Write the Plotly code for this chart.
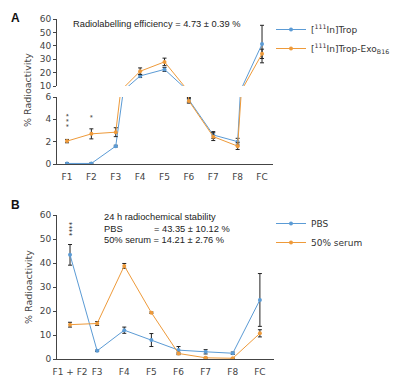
import plotly.graph_objects as go

# ---- data ----
cats_a = ["F1", "F2", "F3", "F4", "F5", "F6", "F7", "F8", "FC"]
trop = [0.05, 0.05, 1.6, 17.5, 22.4, 5.75, 2.6, 2.0, 41.3]
trop_err = [0.05, 0.05, 0.08, 1.2, 1.5, 0.2, 0.3, 0.3, 14.0]
exo = [2.05, 2.7, 2.85, 21.0, 28.0, 5.65, 2.45, 1.6, 34.0]
exo_err = [0.15, 0.45, 0.4, 2.5, 2.8, 0.2, 0.35, 0.3, 3.5]

cats_b = ["F1 + F2", "F3", "F4", "F5", "F6", "F7", "F8", "FC"]
pbs = [43.4, 3.4, 12.0, 7.9, 3.7, 3.0, 2.4, 24.6]
pbs_err = [4.3, 0.3, 1.3, 2.7, 1.5, 0.9, 0.5, 11.0]
serum = [14.3, 14.8, 38.8, 19.3, 2.3, 0.5, 0.3, 10.7]
serum_err = [1.0, 0.8, 1.0, 0.3, 0.5, 0.2, 0.1, 1.5]

yticks_a_low = [0, 2, 4, 6]
yticks_a_high = [10, 20, 30, 40, 50, 60]
yticks_b = [0, 10, 20, 30, 40, 50, 60]

BLUE = "#5B9BD5"
ORANGE = "#EE9A3A"
OFF = 8                      # default page body margin
W, H = 413 - OFF, 379 - OFF
TICKFONT = dict(family="DejaVu Sans", size=9, color="#444")
TXTFONT = dict(family="Liberation Sans, Arial", size=9.3, color="#222")


def px(x):
    return (x - OFF) / W


def py(y):
    return 1 - (y - OFF) / H


fig = go.Figure()


def add(x, y, err, color, name, xa, ya, legend, show):
    fig.add_trace(go.Scatter(
        x=x, y=y, mode="lines+markers", name=name,
        line=dict(color=color, width=1),
        marker=dict(color=color, size=4),
        error_y=dict(type="data", array=err, color="#222", thickness=1, width=2),
        xaxis=xa, yaxis=ya, legend=legend, showlegend=show))


# Panel A (broken axis: lower y, upper y2)
add(cats_a, trop, trop_err, BLUE, "[<sup>111</sup>In]Trop", "x", "y", "legend", False)
add(cats_a, exo, exo_err, ORANGE, "[<sup>111</sup>In]Trop-Exo<sub>B16</sub>", "x", "y", "legend", False)
add(cats_a, trop, trop_err, BLUE, "[<sup>111</sup>In]Trop", "x2", "y2", "legend", True)
add(cats_a, exo, exo_err, ORANGE, "[<sup>111</sup>In]Trop-Exo<sub>B16</sub>", "x2", "y2", "legend", True)
# Panel B
add(cats_b, pbs, pbs_err, BLUE, "PBS", "x3", "y3", "legend2", True)
add(cats_b, serum, serum_err, ORANGE, "50% serum", "x3", "y3", "legend2", True)

yax_common = dict(showline=True, linecolor="#444", linewidth=1, ticks="outside",
                  ticklen=3, tickcolor="#444", tickfont=TICKFONT, showgrid=False,
                  zeroline=False, automargin=False)
xax_common = dict(type="category", showgrid=False, zeroline=False, ticks="",
                  tickfont=TICKFONT, automargin=False)

xa_dom = [px(57), px(273)]
fig.update_layout(
    width=W, height=H, margin=dict(l=0, r=0, t=0, b=0, autoexpand=False),
    paper_bgcolor="white", plot_bgcolor="white",
    xaxis=dict(domain=xa_dom, anchor="y", range=[-0.41, 8.45], showline=True,
               linecolor="#444", linewidth=1, ticklabelstandoff=4, **xax_common),
    yaxis=dict(domain=[py(164), py(97)], anchor="x", range=[0, 6],
               tickvals=yticks_a_low, **yax_common),
    xaxis2=dict(domain=xa_dom, anchor="y2", range=[-0.41, 8.45], showline=False,
                showticklabels=False, matches="x", **xax_common),
    yaxis2=dict(domain=[py(86), py(19)], anchor="x2", range=[10, 60],
                tickvals=yticks_a_high, **yax_common),
    xaxis3=dict(domain=[px(57), px(274)], anchor="y3", range=[-0.48, 7.52],
                showline=True, linecolor="#444", linewidth=1, ticklabelstandoff=4,
                **xax_common),
    yaxis3=dict(domain=[py(359), py(215)], anchor="x3", range=[0, 60],
                tickvals=yticks_b, **yax_common),
    legend=dict(x=px(271), y=py(15), xanchor="left", yanchor="top",
                font=dict(family="DejaVu Sans", size=9, color="#333"),
                bgcolor="rgba(0,0,0,0)", tracegroupgap=0),
    legend2=dict(x=px(271), y=py(209), xanchor="left", yanchor="top",
                 font=dict(family="DejaVu Sans", size=9, color="#333"),
                 bgcolor="rgba(0,0,0,0)", tracegroupgap=0),
    showlegend=True,
)

ann = []
# panel letters
ann.append(dict(x=px(9), y=py(9), text="<b>A</b>", yanchor="top", font=dict(family="Liberation Sans, Arial", size=12, color="#111")))
ann.append(dict(x=px(9), y=py(205), text="<b>B</b>", font=dict(family="Liberation Sans, Arial", size=12, color="#111")))
# y titles
for yc in (90, 287):
    ann.append(dict(x=px(28), y=py(yc), text="% Radioactivity", textangle=-90,
                    xanchor="center", yanchor="middle",
                    font=dict(family="DejaVu Sans", size=9.5, color="#444")))
# texts
ann.append(dict(x=px(71), y=py(24), text="Radiolabelling efficiency = 4.73 ± 0.39 %", font=TXTFONT))
ann.append(dict(x=px(102), y=py(217), text="24 h radiochemical stability", font=TXTFONT))
ann.append(dict(x=px(102), y=py(229), text="PBS", font=TXTFONT))
ann.append(dict(x=px(152), y=py(229), text="= 43.35 ± 10.12 %", font=TXTFONT))
ann.append(dict(x=px(102), y=py(240), text="50% serum = 14.21 ± 2.76 %", font=TXTFONT))
for a in ann:
    a.setdefault("xref", "paper")
    a.setdefault("yref", "paper")
    a.setdefault("xanchor", "left")
    a.setdefault("yanchor", "middle")
    a.setdefault("showarrow", False)

# significance asterisks (stacked vertically via rotated text)
stars = [("x", "y", "F1", 3.9, "* * *", 6.5),
         ("x", "y", "F2", 4.2, "*", 6.5),
         ("x3", "y3", "F1 + F2", 54.2, "****", 7)]
for xr, yr, xc, yy, t, s in stars:
    ann.append(dict(xref=xr, yref=yr, x=xc, y=yy, text=t, showarrow=False,
                    textangle=90, xanchor="center", yanchor="middle", xshift=-1,
                    font=dict(family="DejaVu Sans", size=s, color="#222")))

fig.update_layout(annotations=ann)
fig.write_html("out.html")
